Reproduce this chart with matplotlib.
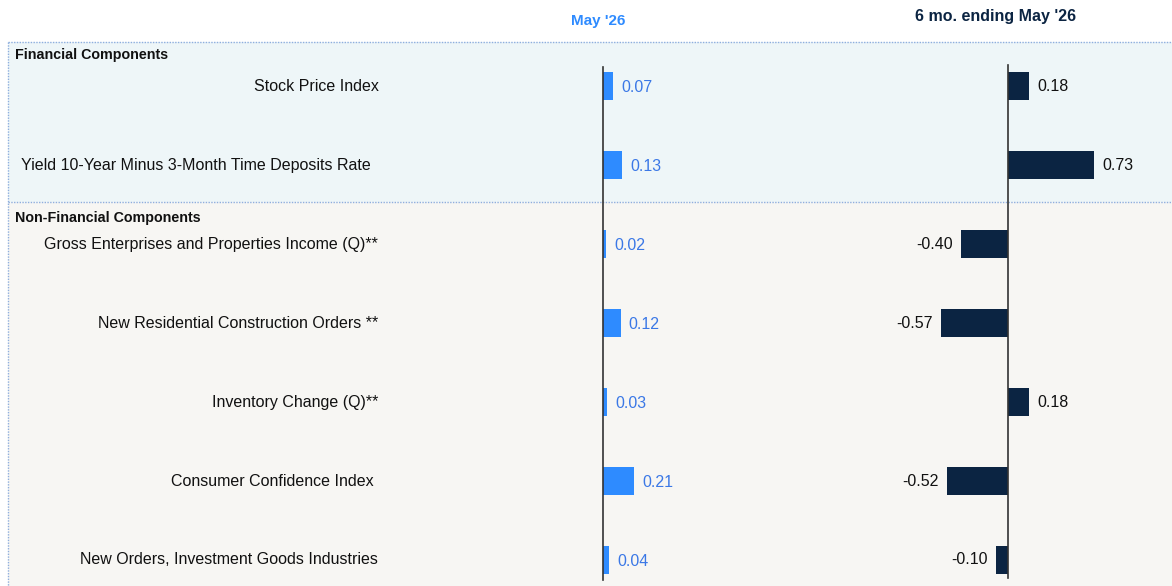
import matplotlib
matplotlib.use("Agg")
import matplotlib.pyplot as plt
from matplotlib.patches import Rectangle

plt.rcParams['font.family'] = ['Liberation Sans', 'DejaVu Sans']

categories = [
    "Stock Price Index",
    "Yield 10-Year Minus 3-Month Time Deposits Rate",
    "Gross Enterprises and Properties Income (Q)**",
    "New Residential Construction Orders **",
    "Inventory Change (Q)**",
    "Consumer Confidence Index",
    "New Orders, Investment Goods Industries",
]
may_values = [0.07, 0.13, 0.02, 0.12, 0.03, 0.21, 0.04]
six_month_values = [0.18, 0.73, -0.40, -0.57, 0.18, -0.52, -0.10]
group_labels = ["Financial Components", "Non-Financial Components"]
col_titles = ["May '26", "6 mo. ending May '26"]

# layout: right edge (px) of each category label
label_right_px = [379, 371, 378, 378, 378, 374, 378]

W, H = 1172, 586
fig = plt.figure(figsize=(W / 100, H / 100), dpi=100)
fig.patch.set_facecolor("white")

def fx(px):
    return px / W

def fy(py):
    return 1 - py / H

# background bands
fig.patches.append(Rectangle((fx(8), fy(202)), fx(W) - fx(8), fy(42) - fy(202),
                             transform=fig.transFigure, facecolor="#eef6f8", edgecolor="none", zorder=-2))
fig.patches.append(Rectangle((fx(8), fy(586)), fx(W) - fx(8), fy(202) - fy(586),
                             transform=fig.transFigure, facecolor="#f7f6f3", edgecolor="none", zorder=-2))
for (x0, y0, x1, y1) in [(8, 42, W, 42), (8, 202, W, 202), (8, 42, 8, 586)]:
    fig.add_artist(plt.Line2D([fx(x0), fx(x1)], [fy(y0), fy(y1)], transform=fig.transFigure,
                              color="#8eaede", linestyle=(0, (1, 1)), linewidth=1.0, zorder=-1))

row0, rowstep = 86, 79.0
ylim = ((H - row0) / rowstep, -row0 / rowstep)
ypos = list(range(len(categories)))
bar_h = 28 / rowstep

def make_axes(zero_px, px_per_unit):
    ax = fig.add_axes([0, 0, 1, 1], zorder=2)
    ax.set_xlim(-zero_px / px_per_unit, (W - zero_px) / px_per_unit)
    ax.set_ylim(*ylim)
    ax.axis("off")
    ax.patch.set_alpha(0)
    return ax

axL = make_axes(603, 148)
axR = make_axes(1008, 118)

axL.barh(ypos, may_values, height=bar_h, color="#2e8bff", zorder=3)
axR.barh(ypos, six_month_values, height=bar_h, color="#0b2442", zorder=3)

axL.plot([0, 0], [(67 - row0) / rowstep, (580 - row0) / rowstep], color="#333333", lw=1.2, zorder=4)
axR.plot([0, 0], [(65 - row0) / rowstep, (578 - row0) / rowstep], color="#333333", lw=1.2, zorder=4)

dy = 1.5 / rowstep
offL = 8 / 148
for y, v in zip(ypos, may_values):
    axL.text(v + offL, y + dy, f"{v:.2f}", ha="left", va="center", color="#3b78e6", fontsize=11.5, zorder=5)
offR = 8 / 118
for y, v in zip(ypos, six_month_values):
    if v >= 0:
        axR.text(v + offR, y, f"{v:.2f}", ha="left", va="center", color="#111111", fontsize=11.5, zorder=5)
    else:
        axR.text(v - offR, y, f"{v:.2f}", ha="right", va="center", color="#111111", fontsize=11.5, zorder=5)

# category labels
for y, c, xr in zip(ypos, categories, label_right_px):
    axL.text((xr - 603) / 148, y, c, ha="right", va="center", color="#111111", fontsize=11.5, zorder=5)

fig.text(fx(15), fy(55), group_labels[0], ha="left", va="center", fontsize=10.3, fontweight="bold", color="#111111")
fig.text(fx(15), fy(218), group_labels[1], ha="left", va="center", fontsize=10.3, fontweight="bold", color="#111111")

fig.text(fx(598), fy(21), col_titles[0], ha="center", va="center", fontsize=11, fontweight="bold", color="#2e8bff")
fig.text(fx(996), fy(16), col_titles[1], ha="center", va="center", fontsize=11.5, fontweight="bold", color="#0b2442")

fig.savefig("out.png", dpi=100)
